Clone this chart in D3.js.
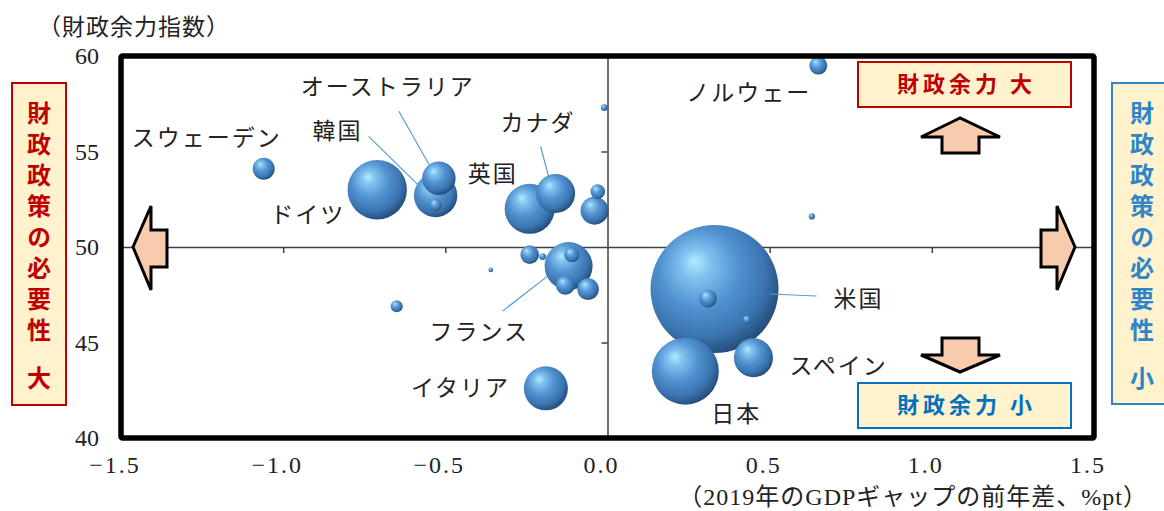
<!DOCTYPE html>
<html>
<head>
<meta charset="utf-8">
<script src="https://cdn.jsdelivr.net/npm/d3@7/dist/d3.min.js"></script>
<style>
  html, body { margin: 0; padding: 0; background: #fff; }
  svg { display: block; }
  .jp { font-family: "Noto Sans CJK JP", "Noto Sans", sans-serif; }
  .num { font-family: "Liberation Serif", "DejaVu Serif", "Noto Sans CJK JP", serif; }
</style>
</head>
<body>
<svg id="chart" width="1164" height="511"></svg>
<script>
// Fiscal space index vs. change in 2019 output gap; bubble area = economy size
const countries = ["ノルウェー", "", "", "", "", "英国", "カナダ", "ドイツ", "スウェーデン", "韓国",
  "オーストラリア", "", "フランス", "", "", "", "", "", "", "",
  "イタリア", "米国", "", "", "日本", "スペイン"];
const gdpGapChange = [0.65, -0.01, 0.63, -0.03, -0.04, -0.24, -0.16, -0.71, -1.06, -0.53,
  -0.52, -0.53, -0.12, -0.11, -0.24, -0.20, -0.36, -0.13, -0.06, -0.65,
  -0.19, 0.33, 0.31, 0.43, 0.24, 0.45];
const fiscalSpace = [59.5, 57.3, 51.6, 52.9, 51.9, 52.0, 52.8, 53.0, 54.1, 52.7,
  53.6, 52.2, 49.0, 49.6, 49.6, 49.5, 48.8, 48.0, 47.8, 46.9,
  42.6, 47.8, 47.3, 46.2, 43.5, 44.2];
const economySize = [0.42, 0.06, 0.05, 0.28, 1.02, 3.27, 1.99, 4.61, 0.63, 2.46,
  1.46, 0.19, 3.01, 0.29, 0.45, 0.06, 0.03, 0.47, 0.61, 0.19,
  2.53, 21.4, 0.41, 0.08, 5.86, 1.99];

const xTicks = [-1.5, -1.0, -0.5, 0.0, 0.5, 1.0, 1.5];
const xTickLabels = ["−1.5", "−1.0", "−0.5", "0.0", "0.5", "1.0", "1.5"];
const yTicks = [40, 45, 50, 55, 60];
const yTickLabels = ["40", "45", "50", "55", "60"];

const yTitle = "（財政余力指数）";
const xTitle = "（2019年のGDPギャップの前年差、%pt）";
const leftBoxText = ["財政政策の必要性", "大"];
const rightBoxText = ["財政政策の必要性", "小"];
const topBoxText = "財政余力 大";
const bottomBoxText = "財政余力 小";

// label placement relative to each bubble centre (px)
const labelLayout = {
  "ノルウェー":   { dx: -132, dy: 27 },
  "英国":        { dx: -62, dy: -35 },
  "カナダ":      { dx: -55, dy: -71, leader: [-15, -47, -7, -17] },
  "ドイツ":      { dx: -107, dy: 25 },
  "スウェーデン": { dx: -132, dy: -31 },
  "韓国":        { dx: -123, dy: -65, leader: [-67, -59, -17, -10] },
  "オーストラリア": { dx: -138, dy: -92, leader: [-40, -67, -10, -14] },
  "フランス":    { dx: -139, dy: 66, leader: [-66, 45, -21, 10] },
  "イタリア":    { dx: -135, dy: -1 },
  "米国":        { dx: 119, dy: 10, leader: [55, 5, 102, 7] },
  "日本":        { dx: 26, dy: 43 },
  "スペイン":    { dx: 36, dy: 8 }
};

const svg = d3.select("#chart");
const plot = { left: 121, right: 1094, top: 56, bottom: 438 };

const x = d3.scaleLinear().domain([-1.5, 1.5]).range([plot.left, plot.right]);
const y = d3.scaleLinear().domain([40, 60]).range([plot.bottom, plot.top]);
const r = d3.scaleSqrt().domain([0, d3.max(economySize)]).range([0, 64]);

const red = "#c00000", blue = "#0070c0", boxFill = "#fff2cc", arrowFill = "#f8cbad";

// sphere shading
const defs = svg.append("defs");
const grad = defs.append("radialGradient").attr("id", "sphere")
  .attr("cx", 0.42).attr("cy", 0.4).attr("r", 0.62).attr("fx", 0.34).attr("fy", 0.28);
[[0, "#b2ecff"], [0.18, "#82c2f0"], [0.5, "#5191d0"], [0.8, "#3a74b0"], [1, "#234c78"]]
  .forEach(([o, c]) => grad.append("stop").attr("offset", o).attr("stop-color", c));

// white plot background
svg.append("rect").attr("x", plot.left).attr("y", plot.top)
  .attr("width", plot.right - plot.left).attr("height", plot.bottom - plot.top).attr("fill", "#fff");

// crossing axes at x = 0 and y = 50
const xAxis = d3.axisBottom(x).tickValues(xTicks.filter(v => Math.abs(v) < 1.5 && v !== 0))
  .tickSize(6).tickSizeOuter(0).tickFormat("");
const gx = svg.append("g").attr("transform", `translate(0,${y(50)})`).call(xAxis);
const yAxis = d3.axisLeft(y).tickValues(yTicks.filter(v => v > 40 && v < 60 && v !== 50))
  .tickSize(6).tickSizeOuter(0).tickFormat("");
const gy = svg.append("g").attr("transform", `translate(${x(0)},0)`).call(yAxis);
[gx, gy].forEach(g => {
  g.select(".domain").attr("stroke", "#404040").attr("stroke-width", 1.5);
  g.selectAll(".tick line").attr("stroke", "#404040").attr("stroke-width", 1.5);
});

// tick labels outside the frame
svg.append("g").selectAll("text").data(xTicks).join("text")
  .attr("class", "num").attr("x", d => x(d) - 6).attr("y", plot.bottom + 35)
  .attr("text-anchor", "middle").attr("font-size", 24).attr("letter-spacing", 2)
  .attr("fill", "#222").text((d, i) => xTickLabels[i]);
svg.append("g").selectAll("text").data(yTicks).join("text")
  .attr("class", "num").attr("x", plot.left - 22).attr("y", d => y(d))
  .attr("dy", "0.35em").attr("text-anchor", "end").attr("font-size", 24)
  .attr("fill", "#222").text((d, i) => yTickLabels[i]);

// axis titles
svg.append("text").attr("class", "jp").attr("x", 38).attr("y", 27).attr("dy", "0.35em")
  .attr("font-size", 23).attr("letter-spacing", 1).attr("fill", "#222").text(yTitle);
svg.append("text").attr("class", "num").attr("x", 1148).attr("y", 497).attr("dy", "0.35em")
  .attr("text-anchor", "end").attr("font-size", 24).attr("letter-spacing", 1)
  .attr("fill", "#222").text(xTitle);

// arrows
const arrows = [
  [[133, 247], [151, 206], [151, 230], [167, 230], [167, 267], [151, 267], [151, 290]],
  [[1075, 247], [1057, 206], [1057, 230], [1041, 230], [1041, 267], [1057, 267], [1057, 290]],
  [[960, 118], [921, 137], [942, 137], [942, 153], [979, 153], [979, 137], [1000, 137]],
  [[960, 372], [921, 355], [942, 355], [942, 338], [979, 338], [979, 355], [1000, 355]]
];
svg.append("g").selectAll("path").data(arrows).join("path")
  .attr("d", d => "M" + d.map(p => p.join(",")).join("L") + "Z")
  .attr("fill", arrowFill).attr("stroke", "#000").attr("stroke-width", 3)
  .attr("stroke-linejoin", "miter");

// bubbles, biggest drawn first
const bubbles = countries.map((name, i) => ({
  name, gx: gdpGapChange[i], fs: fiscalSpace[i], size: economySize[i]
})).sort((a, b) => b.size - a.size);

svg.append("g").selectAll("circle").data(bubbles).join("circle")
  .attr("cx", d => x(d.gx)).attr("cy", d => y(d.fs)).attr("r", d => r(d.size))
  .attr("fill", "url(#sphere)");

// country labels and leader lines
const labelled = bubbles.filter(d => d.name && labelLayout[d.name]);
svg.append("g").selectAll("line").data(labelled.filter(d => labelLayout[d.name].leader)).join("line")
  .attr("x1", d => x(d.gx) + labelLayout[d.name].leader[0])
  .attr("y1", d => y(d.fs) + labelLayout[d.name].leader[1])
  .attr("x2", d => x(d.gx) + labelLayout[d.name].leader[2])
  .attr("y2", d => y(d.fs) + labelLayout[d.name].leader[3])
  .attr("stroke", "#5b9bd5").attr("stroke-width", 1.2);
svg.append("g").selectAll("text").data(labelled).join("text")
  .attr("class", "jp").attr("x", d => x(d.gx) + labelLayout[d.name].dx)
  .attr("y", d => y(d.fs) + labelLayout[d.name].dy).attr("dy", "0.36em")
  .attr("font-size", 23).attr("letter-spacing", 2).attr("fill", "#222")
  .text(d => d.name);

// plot frame
svg.append("rect").attr("x", plot.left).attr("y", plot.top)
  .attr("width", plot.right - plot.left).attr("height", plot.bottom - plot.top)
  .attr("fill", "none").attr("stroke", "#000").attr("stroke-width", 5.5).attr("rx", 1.5);

// horizontal note boxes
function hBox(x0, y0, w, h, color, text) {
  svg.append("rect").attr("x", x0).attr("y", y0).attr("width", w).attr("height", h)
    .attr("fill", boxFill).attr("stroke", color).attr("stroke-width", 2);
  svg.append("text").attr("class", "jp").attr("x", x0 + w / 2 + 2).attr("y", y0 + h / 2)
    .attr("dy", "0.36em").attr("text-anchor", "middle").attr("font-size", 22)
    .attr("font-weight", 700).attr("letter-spacing", 4).attr("fill", color).text(text);
}
hBox(858, 62, 213, 45, red, topBoxText);
hBox(858, 383, 213, 45, blue, bottomBoxText);

// vertical note boxes, text set top-to-bottom
function vBox(x0, y0, w, h, color, parts) {
  svg.append("rect").attr("x", x0).attr("y", y0).attr("width", w).attr("height", h)
    .attr("fill", boxFill).attr("stroke", color).attr("stroke-width", 2);
  const g = svg.append("g");
  g.append("text").attr("class", "jp")
    .attr("x", x0 + w / 2).attr("y", y0 + 18)
    .style("writing-mode", "vertical-rl").style("text-orientation", "upright")
    .attr("font-size", 24).attr("letter-spacing", 7)
    .attr("font-weight", 700).attr("fill", color).text(parts[0]);
  g.append("text").attr("class", "jp")
    .attr("x", x0 + w / 2).attr("y", y0 + 283)
    .style("writing-mode", "vertical-rl").style("text-orientation", "upright")
    .attr("font-size", 24).attr("font-weight", 700).attr("fill", color).text(parts[1]);
}
vBox(12, 83, 54, 322, red, leftBoxText);
vBox(1112, 83, 60, 321, "#2e86c8", rightBoxText);
</script>
</body>
</html>
